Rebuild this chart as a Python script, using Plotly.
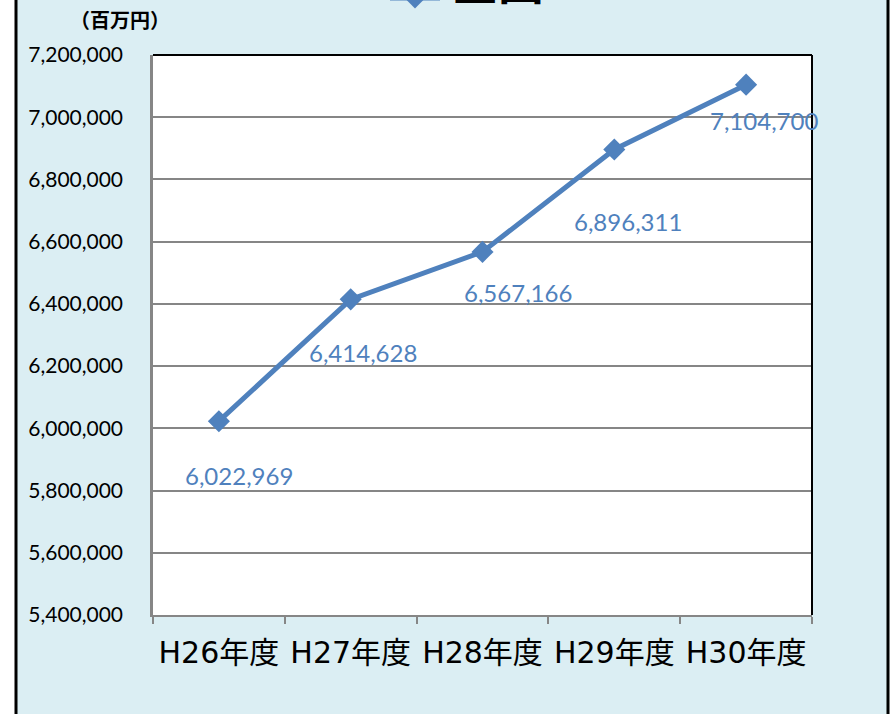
import plotly.graph_objects as go

categories = ["H26年度", "H27年度", "H28年度", "H29年度", "H30年度"]
values = [6022969, 6414628, 6567166, 6896311, 7104700]
series_name = "全国"
unit_label = "（百万円）"

# label offsets in pixels (dx right, dy down)
label_offsets = [(20, 54), (12, 53), (35, 41), (14, 72), (18, 36)]

W, H = 893, 714
PL, PR, PT, PB = 153, 812, 55, 615   # plot area in pixels
PW, PH = PR - PL, PB - PT


def px_x(p):
    return (p - PL) / PW


def px_y(p):
    return (PB - p) / PH


blue = "#4F81BD"
grid = "#868686"

fig = go.Figure()
fig.add_trace(go.Scatter(
    x=categories, y=values, name=" ", mode="lines+markers",
    line=dict(color=blue, width=5),
    marker=dict(symbol="diamond", size=17, color=blue),
    showlegend=True, hoverinfo="x+y",
))

annotations = []
for i, (c, v) in enumerate(zip(categories, values)):
    dx, dy = label_offsets[i]
    annotations.append(dict(
        x=c, y=v, xref="x", yref="y", text=f"{v:,}", showarrow=False,
        xshift=dx, yshift=-dy,
        font=dict(family="Lato", size=24, color=blue),
        xanchor="center", yanchor="middle",
    ))
annotations.append(dict(
    x=px_x(120), y=px_y(19), xref="paper", yref="paper", text=f"<b>{unit_label}</b>",
    showarrow=False, xanchor="center", yanchor="middle",
    font=dict(family="Noto Sans CJK JP", size=20, color="black"),
))
annotations.append(dict(
    x=px_x(450), y=px_y(14), xref="paper", yref="paper", text=f"<b>{series_name}</b>",
    showarrow=False, xanchor="left", yanchor="bottom",
    font=dict(family="Noto Sans CJK JP", size=46, color="black"),
))

shapes = [
    dict(type="rect", xref="paper", yref="paper", x0=px_x(16), x1=px_x(888),
         y0=-0.5, y1=1.5, fillcolor="#DBEEF3", line=dict(color="black", width=3), layer="below"),
    dict(type="rect", xref="paper", yref="paper", x0=0, x1=1, y0=0, y1=1,
         fillcolor="white", line=dict(width=0), layer="below"),
    dict(type="line", xref="paper", yref="paper", x0=0, x1=1, y0=1, y1=1,
         line=dict(color="black", width=2), layer="above"),
    dict(type="line", xref="paper", yref="paper", x0=1, x1=1, y0=0, y1=1,
         line=dict(color="black", width=2), layer="above"),
]

fig.update_layout(
    width=W, height=H,
    margin=dict(l=PL, r=W - PR, t=PT, b=H - PB, autoexpand=False),
    paper_bgcolor="white", plot_bgcolor="white",
    showlegend=True,
    legend=dict(
        orientation="h", x=px_x(385), y=px_y(-2), xanchor="left", yanchor="middle",
        font=dict(family="Noto Sans", size=10, color="black"),
        bgcolor="rgba(0,0,0,0)", borderwidth=0, itemwidth=50,
    ),
    annotations=annotations,
    shapes=shapes,
)
fig.update_xaxes(
    type="category", range=[-0.5, 4.5],
    showline=True, linecolor=grid, linewidth=2, mirror=False,
    ticks="outside", tickson="boundaries", ticklen=7, tickcolor=grid, tickwidth=1.5,
    showgrid=False, ticklabelstandoff=10,
    tickfont=dict(family="DejaVu Sans, Noto Sans CJK JP", size=30, color="black"),
)
fig.update_yaxes(
    range=[5400000, 7200000], dtick=200000, tickformat=",d",
    showline=True, linecolor=grid, linewidth=2.5,
    showgrid=True, gridcolor=grid, gridwidth=1.5, zeroline=False,
    ticks="", ticklabelstandoff=23,
    tickfont=dict(family="Lato", size=21, color="black"),
)

fig.write_html(
    "out.html",
    config={"displayModeBar": False},
    post_script="document.body.style.margin='0px';",
)
